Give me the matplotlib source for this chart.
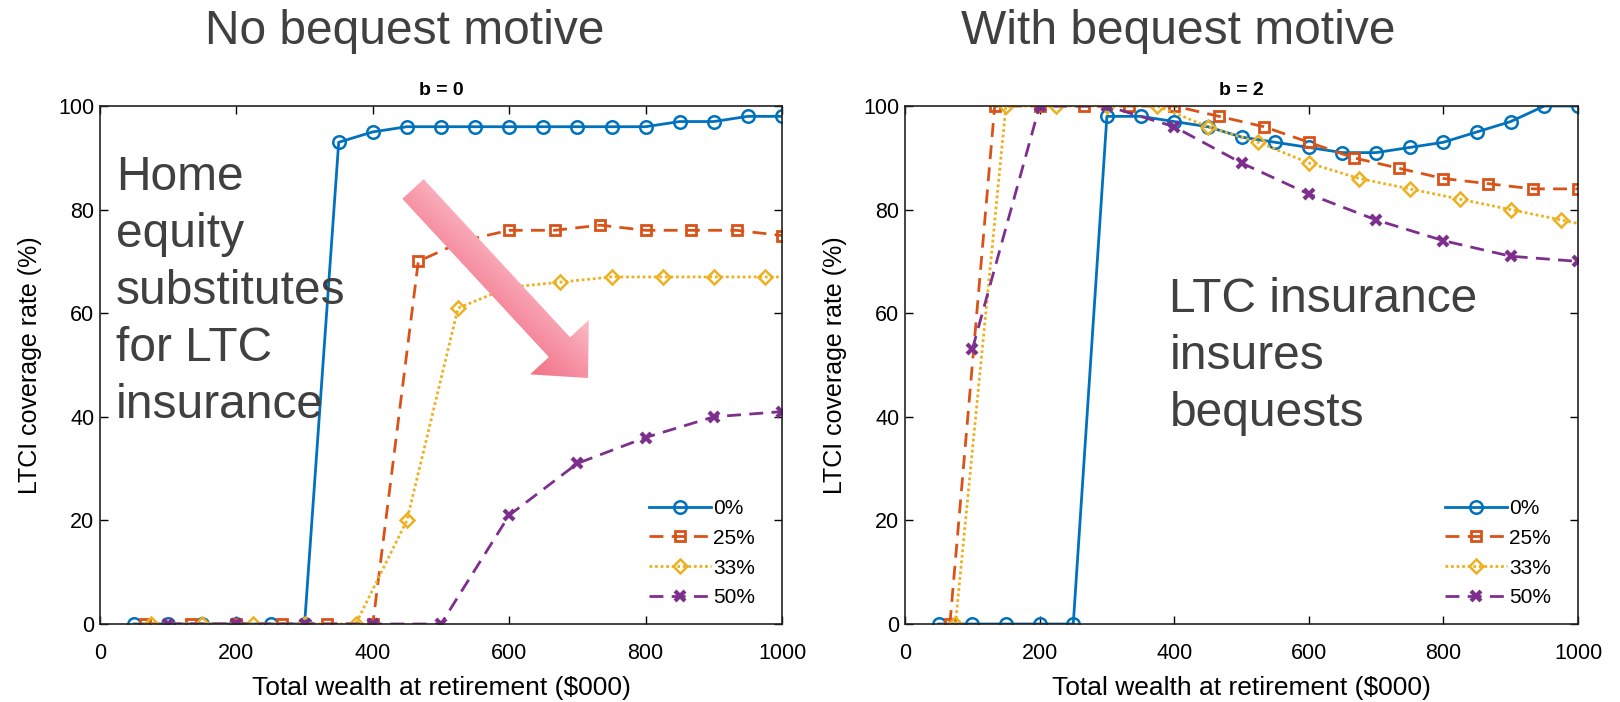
import numpy as np
import matplotlib
matplotlib.use("Agg")
import matplotlib.pyplot as plt
from matplotlib.patches import Polygon
from matplotlib.colors import LinearSegmentedColormap

plt.rcParams['font.family'] = ['Liberation Sans', 'DejaVu Sans']

# ---------------- data ----------------
labels = ["0%", "25%", "33%", "50%"]

# b = 0 (no bequest motive)
x0_blue = [50, 100, 150, 200, 250, 300, 350, 400, 450, 500, 550, 600, 650, 700, 750, 800, 850, 900, 950, 1000]
y0_blue = [0, 0, 0, 0, 0, 0, 93, 95, 96, 96, 96, 96, 96, 96, 96, 96, 97, 97, 98, 98]
x0_orange = [66.7, 133.3, 200, 266.7, 333.3, 400, 466.7, 533.3, 600, 666.7, 733.3, 800, 866.7, 933.3, 1000]
y0_orange = [0, 0, 0, 0, 0, 0, 70, 74, 76, 76, 77, 76, 76, 76, 75]
x0_yellow = [75, 150, 225, 300, 375, 450, 525, 600, 675, 750, 825, 900, 975, 1050]
y0_yellow = [0, 0, 0, 0, 0, 20, 61, 65, 66, 67, 67, 67, 67, 67]
x0_purple = [100, 200, 300, 400, 500, 600, 700, 800, 900, 1000]
y0_purple = [0, 0, 0, 0, 0, 21, 31, 36, 40, 41]

# b = 2 (with bequest motive)
x2_blue = [50, 100, 150, 200, 250, 300, 350, 400, 450, 500, 550, 600, 650, 700, 750, 800, 850, 900, 950, 1000]
y2_blue = [0, 0, 0, 0, 0, 98, 98, 97, 96, 94, 93, 92, 91, 91, 92, 93, 95, 97, 100, 100]
x2_orange = [66.7, 133.3, 200, 266.7, 333.3, 400, 466.7, 533.3, 600, 666.7, 733.3, 800, 866.7, 933.3, 1000]
y2_orange = [0, 100, 100, 100, 100, 100, 98, 96, 93, 90, 88, 86, 85, 84, 84]
x2_yellow = [75, 150, 225, 300, 375, 450, 525, 600, 675, 750, 825, 900, 975, 1050]
y2_yellow = [0, 100, 100, 100, 100, 96, 93, 89, 86, 84, 82, 80, 78, 76]
x2_purple = [100, 200, 300, 400, 500, 600, 700, 800, 900, 1000]
y2_purple = [53, 100, 100, 96, 89, 83, 78, 74, 71, 70]

xticks = [0, 200, 400, 600, 800, 1000]
yticks = [0, 20, 40, 60, 80, 100]

colors = ["#0072BD", "#D95319", "#EDB120", "#7E2F8E"]
styles = [dict(ls='-', marker='o', ms=9, mew=1.8),
          dict(ls=(0, (5, 3)), marker='s', ms=7, mew=2),
          dict(ls=(0, (1, 1)), marker='D', ms=7.5, mew=1.8),
          dict(ls=(0, (5, 3)), marker='x', ms=6.5, mew=3)]

W, H = 1620, 702
fig = plt.figure(figsize=(W / 100, H / 100), dpi=100)

def px_axes(l, t, r, b):
    return fig.add_axes([l / W, 1 - b / H, (r - l) / W, (b - t) / H])

ax0 = px_axes(100, 106, 782, 624)
ax2 = px_axes(905, 106, 1578, 624)

panels = [
    (ax0, "b = 0", [(x0_blue, y0_blue), (x0_orange, y0_orange), (x0_yellow, y0_yellow), (x0_purple, y0_purple)]),
    (ax2, "b = 2", [(x2_blue, y2_blue), (x2_orange, y2_orange), (x2_yellow, y2_yellow), (x2_purple, y2_purple)]),
]

for ax, ttl, series in panels:
    for (xs, ys), c, st, lab in zip(series, colors, styles, labels):
        ax.plot(xs, ys, color=c, lw=2, mfc='none', mec=c, label=lab, **st)
    ax.set_xlim(0, 1000)
    ax.set_ylim(0, 100)
    ax.set_xticks(xticks)
    ax.set_yticks(yticks)
    ax.tick_params(axis='both', direction='in', top=True, right=True, length=6, width=1,
                   labelsize=15.5, colors='black')
    ax.tick_params(axis='x', pad=14)
    ax.tick_params(axis='y', pad=4)
    for s in ax.spines.values():
        s.set_linewidth(1.2)
        s.set_color('#222222')
    ax.set_xlabel("Total wealth at retirement ($000)", fontsize=19, labelpad=8)
    ax.set_ylabel("LTCI coverage rate (%)", fontsize=18, labelpad=12)
    ax.set_title(ttl, fontsize=14, fontweight='bold', pad=8)
    leg = ax.legend(loc='lower right', frameon=False, fontsize=15, handlelength=3.0,
                    handletextpad=0.1, labelspacing=0.52, borderaxespad=0.4,
                    bbox_to_anchor=(0.985, 0.0))

# big headings
fig.text(405 / W, 1 - 32 / H, "No bequest motive", fontsize=34.5, color='#404040',
         ha='center', va='center')
fig.text(1178 / W, 1 - 32 / H, "With bequest motive", fontsize=34.5, color='#404040',
         ha='center', va='center')

# annotations
ax0.text(0.023, 0.905, "Home\nequity\nsubstitutes\nfor LTC\ninsurance", transform=ax0.transAxes,
         fontsize=34.5, color='#404040', ha='left', va='top', linespacing=1.34, zorder=5)
ax2.text(0.393, 0.67, "LTC insurance\ninsures\nbequests", transform=ax2.transAxes,
         fontsize=34.5, color='#404040', ha='left', va='top', linespacing=1.34, zorder=5)

# gradient arrow (overlay in pixel coords)
ov = fig.add_axes([0, 0, 1, 1], zorder=10)
ov.set_xlim(0, W)
ov.set_ylim(H, 0)
ov.axis('off')
T = np.array([413.0, 189.0])
P = np.array([588.0, 378.0])
d = (P - T) / np.linalg.norm(P - T)
n = np.array([d[1], -d[0]])
hw, hhw, hl = 14.5, 40.0, 42.0
B = P - d * hl
pts = [T + n * hw, B + n * hw, B + n * hhw, P, B - n * hhw, B - n * hw, T - n * hw]
poly = Polygon(pts, closed=True, facecolor='none', edgecolor='none')
ov.add_patch(poly)
gx, gy = np.meshgrid(np.arange(380, 620), np.arange(160, 400))
t = ((gx - T[0]) * n[0] + (gy - T[1]) * n[1] + hhw) / (2 * hhw)
s = ((gx - T[0]) * d[0] + (gy - T[1]) * d[1]) / np.linalg.norm(P - T)
val = np.clip(0.75 * t + 0.15 * (1 - s) - 0.05, 0, 1)
cmap = LinearSegmentedColormap.from_list("pk", ["#F27287", "#F8A2B2", "#FDDDE3"])
im = ov.imshow(val, extent=(380, 620, 400, 160), cmap=cmap, vmin=0, vmax=1,
               interpolation='bilinear', aspect='auto')
im.set_clip_path(poly)
ov.set_xlim(0, W)
ov.set_ylim(H, 0)

fig.savefig("out.png", dpi=100)
